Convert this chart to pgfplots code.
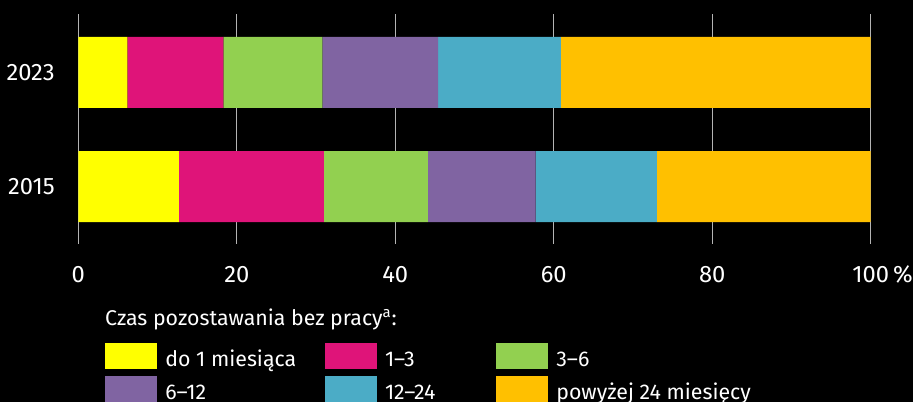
\documentclass[border=0pt]{standalone}
\usepackage{pgfplots}
\pgfplotsset{compat=1.18}
\usepackage{fontspec}
\setmainfont{Fira Sans}
\definecolor{cYellow}{HTML}{FFFF00}
\definecolor{cMag}{HTML}{DF1479}
\definecolor{cGreen}{HTML}{92D050}
\definecolor{cPurple}{HTML}{8064A2}
\definecolor{cBlue}{HTML}{4BACC6}
\definecolor{cOrange}{HTML}{FFC000}
\definecolor{cGrid}{HTML}{B4B4B4}
\begin{document}
\fontsize{16}{19.2}\selectfont
\begin{tikzpicture}[font=\fontsize{16}{19.2}\selectfont]
\fill[black] (-58.725pt,-118.5pt) rectangle (626.025pt,183pt);
\begin{axis}[
  at={(0,0)}, anchor=south west,
  scale only axis, width=594.3pt, height=172.5pt,
  xbar stacked, bar width=53.25pt,
  xmin=0, xmax=100, ymin=-0.504, ymax=1.513,
  xtick={0,20,40,60,80,100},
  xticklabels={0,20,40,60,80,100\rlap{\,\%}},
  ytick={0,1}, yticklabels={2015,2023},
  xmajorgrids, grid style={cGrid, line width=0.9pt},
  axis line style={draw=none}, tick style={draw=none},
  /pgf/number format/assume math mode=true,
  tick label style={text=white, font=\fontsize{17.8}{21}\selectfont},
  xticklabel style={inner sep=0pt, anchor=north, yshift=-16.3pt},
  yticklabel style={inner sep=0pt, anchor=east, xshift=-17.5pt},
  legend columns=3,
  legend style={at={(0.0337,-0.430)}, anchor=north west, draw=none, fill=none,
    inner sep=0pt, outer sep=0pt, column sep=0pt, row sep=0pt,
    nodes={inner sep=0pt, text=white}, cells={anchor=base west}},
  legend image code/.code={\fill[#1] (0pt,-1.75pt) rectangle (39pt,17.75pt); \path (0pt,-7pt) (45.25pt,0pt);},
]
\addplot[fill=cYellow, draw=none] coordinates {(12.7,0) (6.2,1)};
\addplot[fill=cMag, draw=none] coordinates {(18.3,0) (12.1,1)};
\addplot[fill=cGreen, draw=none] coordinates {(13.1,0) (12.5,1)};
\addplot[fill=cPurple, draw=none] coordinates {(13.6,0) (14.6,1)};
\addplot[fill=cBlue, draw=none] coordinates {(15.3,0) (15.5,1)};
\addplot[fill=cOrange, draw=none] coordinates {(27.0,0) (39.1,1)};
\legend{\makebox[119.5pt][l]{do 1 miesiąca}, \makebox[83.25pt][l]{1–3}, 3–6,
        \makebox[119.5pt][l]{6–12}, \makebox[83.25pt][l]{12–24}, powyżej 24 miesięcy}
\end{axis}
\node[anchor=base west, inner sep=0pt, text=white] at (20pt,-61.5pt) {Czas pozostawania bez pracy\textsuperscript{a}:};
\pgfresetboundingbox
\path[use as bounding box] (-58.725pt,-118.5pt) rectangle (626.025pt,183pt);
\end{tikzpicture}
\end{document}
